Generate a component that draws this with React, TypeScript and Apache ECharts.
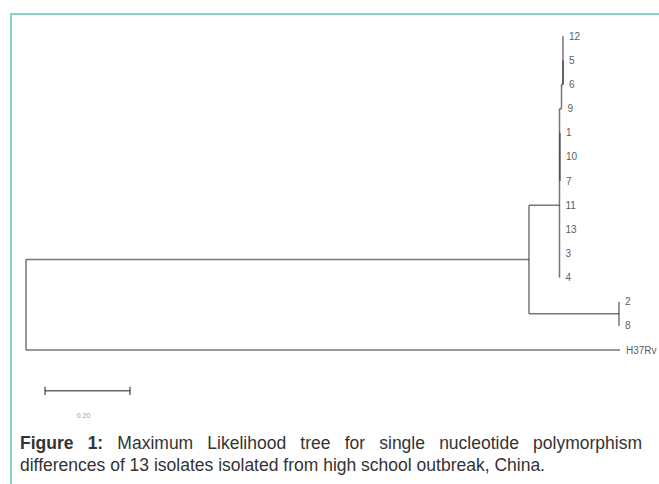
import React, { useEffect, useRef } from "react";
import * as echarts from "echarts";

// ---- Tree data (branch depth in substitutions/site, row = leaf order) ----
const leafNames = ["12", "5", "6", "9", "1", "10", "7", "11", "13", "3", "4", "2", "8", "H37Rv"];
const leafParents = ["D", "E", "E", "B", "C", "C", "C", "A", "A", "A", "A", "F", "F", "root"];
const leafDepths = [1.2635, 1.2635, 1.2635, 1.26, 1.2565, 1.2565, 1.2565, 1.2553, 1.2553, 1.2553, 1.2553, 1.3953, 1.3953, 1.3976];
const leafRows = [0, 1, 2, 3, 4, 5, 6, 7, 8, 9, 10, 11, 12, 13];

const nodeIds = ["root", "U", "A", "B", "C", "D", "E", "F"];
const nodeParents = [null, "root", "U", "A", "A", "B", "D", "U"];
const nodeDepths = [0, 1.1835, 1.2553, 1.26, 1.2565, 1.2635, 1.2635, 1.3953];
const nodeRows = [11.125, 9.25, 7, 3, 5, 2, 1.5, 11.5];

// ---- Scale bar ----
const scaleBarStart = 0.0447;
const scaleBarLength = 0.2;
const scaleBarRow = 14.69;
const scaleBarLabel = "0.20";

// ---- Caption ----
const captionBoldWords = ["Figure", "1:"];
const captionLine1Words = ["Maximum", "Likelihood", "tree", "for", "single", "nucleotide", "polymorphism"];
const captionLine2 = "differences of 13 isolates isolated from high school outbreak, China.";

const FONT = '"Liberation Sans", Arial, Helvetica, sans-serif';
const CAPTION_SIZE = 17.5;
const TREE_COLOR = "rgba(40,40,40,0.64)";
const BORDER_COLOR = "#7fd6c8";

function buildTreeSegments(): number[][] {
  const depthOf: Record<string, number> = {};
  nodeIds.forEach((id, i) => {
    depthOf[id] = nodeDepths[i];
  });
  const segs: number[][] = [];
  nodeIds.forEach((id, i) => {
    const p = nodeParents[i];
    if (p) segs.push([depthOf[p], nodeRows[i], nodeDepths[i], nodeRows[i]]);
  });
  leafNames.forEach((_n, i) => {
    const p = leafParents[i];
    if (depthOf[p] !== leafDepths[i]) segs.push([depthOf[p], leafRows[i], leafDepths[i], leafRows[i]]);
  });
  nodeIds.forEach((id, i) => {
    const rows = [nodeRows[i]];
    nodeIds.forEach((_c, j) => {
      if (nodeParents[j] === id) rows.push(nodeRows[j]);
    });
    leafNames.forEach((_c, j) => {
      if (leafParents[j] === id) rows.push(leafRows[j]);
    });
    segs.push([nodeDepths[i], Math.min(...rows), nodeDepths[i], Math.max(...rows)]);
  });
  return segs;
}

function measure(text: string, bold: boolean): number {
  const c = document.createElement("canvas");
  const ctx = c.getContext("2d");
  if (!ctx) return text.length * CAPTION_SIZE * 0.5;
  ctx.font = `${bold ? "bold " : ""}${CAPTION_SIZE}px "Liberation Sans", Arial, sans-serif`;
  return ctx.measureText(text).width;
}

function captionGraphics() {
  const left = 20;
  const right = 642;
  const y1 = 442.5;
  const y2 = 465;
  const words = [
    ...captionBoldWords.map((t) => ({ t, bold: true })),
    ...captionLine1Words.map((t) => ({ t, bold: false })),
  ];
  const widths = words.map((w) => measure(w.t, w.bold));
  const total = widths.reduce((a, b) => a + b, 0);
  const gap = (right - left - total) / (words.length - 1);
  let x = left;
  const els: any[] = [];
  words.forEach((w, i) => {
    els.push({
      type: "text",
      x,
      y: y1,
      style: {
        text: w.t,
        fill: "#333333",
        font: `${w.bold ? "bold " : ""}${CAPTION_SIZE}px ${FONT}`,
        textAlign: "left",
        textVerticalAlign: "middle",
      },
    });
    x += widths[i] + gap;
  });
  els.push({
    type: "text",
    x: left,
    y: y2,
    style: {
      text: captionLine2,
      fill: "#333333",
      font: `${CAPTION_SIZE}px ${FONT}`,
      textAlign: "left",
      textVerticalAlign: "middle",
    },
  });
  return els;
}

export default function App() {
  const ref = useRef<HTMLDivElement>(null);
  useEffect(() => {
    if (!ref.current) return;
    const chart = echarts.init(ref.current, null, { renderer: "svg" });
    const treeSegs = buildTreeSegments();
    const scaleSegs = [
      [scaleBarStart, scaleBarRow, scaleBarStart + scaleBarLength, scaleBarRow],
      [scaleBarStart, scaleBarRow - 0.17, scaleBarStart, scaleBarRow + 0.17],
      [scaleBarStart + scaleBarLength, scaleBarRow - 0.17, scaleBarStart + scaleBarLength, scaleBarRow + 0.17],
    ];
    const lineRender = (color: string, width: number) => (_params: any, api: any) => {
      const p1 = api.coord([api.value(0), api.value(1)]);
      const p2 = api.coord([api.value(2), api.value(3)]);
      return {
        type: "line",
        shape: { x1: p1[0], y1: p1[1], x2: p2[0], y2: p2[1] },
        style: { stroke: color, lineWidth: width },
      };
    };
    chart.setOption({
      animation: false,
      grid: { left: 26, right: 16.75, top: 36.3, bottom: 61.6 },
      xAxis: { type: "value", min: 0, max: 1.45, show: false },
      yAxis: { type: "value", min: 0, max: 16, inverse: true, show: false },
      graphic: [
        { type: "line", shape: { x1: 11, y1: 14, x2: 659, y2: 14 }, style: { stroke: BORDER_COLOR, lineWidth: 2 } },
        { type: "line", shape: { x1: 11, y1: 13, x2: 11, y2: 484 }, style: { stroke: BORDER_COLOR, lineWidth: 2 } },
        ...captionGraphics(),
      ],
      series: [
        {
          type: "custom",
          name: "tree",
          clip: false,
          data: treeSegs,
          encode: { x: [0, 2], y: [1, 3] },
          renderItem: lineRender(TREE_COLOR, 1.5),
        },
        {
          type: "custom",
          name: "scale",
          clip: false,
          data: scaleSegs,
          encode: { x: [0, 2], y: [1, 3] },
          renderItem: lineRender("rgba(40,40,40,0.7)", 1.5),
        },
        {
          type: "scatter",
          name: "leaves",
          symbolSize: 0,
          itemStyle: { color: "transparent" },
          data: leafNames.map((n, i) => ({ name: n, value: [leafDepths[i], leafRows[i]] })),
          label: {
            show: true,
            position: "right",
            distance: 6,
            formatter: "{b}",
            fontSize: 10,
            fontFamily: FONT,
            color: "#262c38",
          },
        },
        {
          type: "scatter",
          name: "scaleLabel",
          symbolSize: 0,
          itemStyle: { color: "transparent" },
          data: [{ name: scaleBarLabel, value: [scaleBarStart + scaleBarLength / 2, 15.7] }],
          label: {
            show: true,
            position: "inside",
            offset: [-4, 0],
            formatter: "{b}",
            fontSize: 7,
            fontFamily: FONT,
            color: "#6f7c92",
          },
        },
      ],
    });
    return () => chart.dispose();
  }, []);
  return (
    <div
      ref={ref}
      style={{ position: "absolute", left: 0, top: 0, width: 659, height: 484, background: "#ffffff" }}
    />
  );
}
